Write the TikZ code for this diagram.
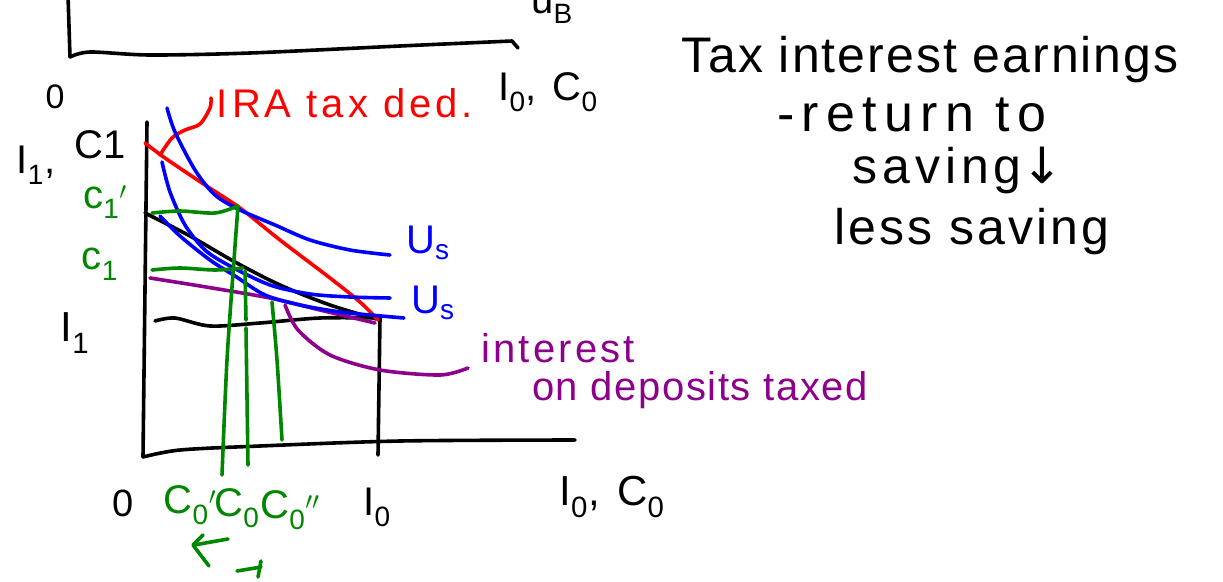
\documentclass[tikz,border=0pt]{standalone}
\usepackage{fontspec}
\setmainfont{Liberation Sans}
\newfontfamily\djv{DejaVu Sans}
\definecolor{pr}{RGB}{140,0,140}
\definecolor{gr}{RGB}{0,135,0}
\definecolor{rd}{RGB}{255,0,0}
\definecolor{bl}{RGB}{0,0,255}
\newcommand{\hsz}[1]{\fontsize{#1}{#1}\selectfont}
\newcommand{\lsp}[1]{\addfontfeature{LetterSpace=#1}}
\begin{document}
\begin{tikzpicture}[x=1pt,y=-1pt,
  pen/.style={line width=3.6pt,line cap=round,line join=round},
  lbl/.style={inner sep=0pt,anchor=center}]
\useasboundingbox[fill=white] (0,0) rectangle (1223,581);
% top partial graph
\draw[pen] (68,-5) -- (70,57) plot[smooth] coordinates {(70,57)(90,52)(150,55)(250,53)(400,46)(512,41)} -- (518,48);
\node[lbl] (uB) at (552,8) {\hsz{40}u\textsubscript{B}};
\node[lbl] (o1) at (55,97) {\hsz{34}0};
\node[lbl] (topax) at (548,92) {\hsz{40}\lsp{12}I\textsubscript{0}, C\textsubscript{0}};
% axes main
\draw[pen] (147,122) -- (143,457) plot[smooth] coordinates {(143,457)(180,450)(260,446)(400,441)(575,440)};
% I1 line and I0 vertical
\draw[pen] plot[smooth] coordinates {(155,321)(175,318)(210,326)(260,323)(320,318)(380,318)} -- (378,455);
% purple
\draw[pen,pr] plot[smooth] coordinates {(150,278)(200,286)(270,298)(320,310)(375,323)};
\draw[pen,pr] plot[smooth] coordinates {(285,305)(298,330)(330,355)(380,370)(440,375)(468,368)};
% black budget
\draw[pen] plot[smooth] coordinates {(145,213)(190,236)(235,262)(280,285)(330,305)(380,320)};
% red IRA line
\draw[pen,rd] plot[smooth] coordinates {(145,143)(165,158)(205,185)(240,208)(280,240)(330,278)(360,302)(378,320)};
\draw[pen,rd] plot[smooth] coordinates {(160,155)(172,138)(185,130)(200,124)(210,108)(211,98)};
% blue ICs
\draw[pen,bl] plot[smooth] coordinates {(167,108)(175,132)(195,170)(215,195)(240,210)(275,225)(310,240)(350,250)(390,255)};
\draw[pen,bl] plot[smooth] coordinates {(162,162)(170,192)(185,225)(205,250)(230,266)(270,285)(310,294)(350,297)(390,298)};
\draw[pen,bl] plot[smooth] coordinates {(160,216)(180,236)(210,260)(235,276)(265,295)(300,305)(340,312)(370,315)(404,318)};
% green lines
\draw[pen,gr] plot[smooth] coordinates {(152,213)(180,211)(215,213)(238,206)};
\draw[pen,gr] plot[smooth] coordinates {(152,270)(180,268)(215,270)(243,268)};
\draw[pen,gr] plot[smooth] coordinates {(238,206)(234,260)(227,360)(222,475)};
\draw[pen,gr] (245,271) -- (246,320);
\draw[pen,gr] (246,328) -- (248,465);
\draw[pen,gr] plot[smooth] coordinates {(272,302)(277,360)(282,440)};
% arrows
\draw[pen,gr] (203,535) -- (193,545) -- (209,566);
\draw[pen,gr] (194,545) -- (228,539);
\draw[pen,gr] (237,571) -- (261,567);
\draw[pen,gr] (261,561) -- (258,577);
% labels left
\node[lbl] (I1C1) at (36,165) {\hsz{40}I\textsubscript{1},};
\node[lbl] (C1a) at (100,145) {\hsz{40}C1};
\node[lbl,gr] (c1p) at (105,202) {\hsz{40}c\textsubscript{1}$'$};
\node[lbl,gr] (c1) at (100,264) {\hsz{40}c\textsubscript{1}};
\node[lbl] (I1) at (75,333) {\hsz{42}I\textsubscript{1}};
% blue labels
\node[lbl,bl] (Us1) at (428,243) {\hsz{40}U\textsubscript{s}};
\node[lbl,bl] (Us2) at (433,303) {\hsz{40}U\textsubscript{s}};
% red label
\node[lbl,rd] (ira) at (345,103) {\hsz{40}\lsp{10}IRA tax ded.};
% purple label
\node[lbl,pr] (int) at (558,348) {\hsz{40}\lsp{8}interest};
\node[lbl,pr] (dep) at (700,390) {\hsz{40}\lsp{4}on deposits taxed};
% bottom labels
\node[lbl] (o2) at (123,503) {\hsz{38}0};
\node[lbl,gr] (c0p) at (190,505) {\hsz{40}C\textsubscript{0}$'$};
\node[lbl,gr] (c0) at (237,508) {\hsz{40}C\textsubscript{0}};
\node[lbl,gr] (c0pp) at (290,510) {\hsz{40}C\textsubscript{0}$''$};
\node[lbl] (I0) at (377,507) {\hsz{40}I\textsubscript{0}};
\node[lbl] (botax) at (612,497) {\hsz{42}\lsp{14}I\textsubscript{0}, C\textsubscript{0}};
% right text
\node[lbl] (t1) at (930,60) {\hsz{50}\lsp{4}Tax interest earnings};
\node[lbl] (t2) at (912,115) {\hsz{52}\lsp{14}-return to};
\node[lbl] (t3) at (958,170) {\hsz{50}\lsp{10}saving{\djv ↓}};
\node[lbl] (t4) at (972,232) {\hsz{50}\lsp{6}less saving};
\end{tikzpicture}
\end{document}
